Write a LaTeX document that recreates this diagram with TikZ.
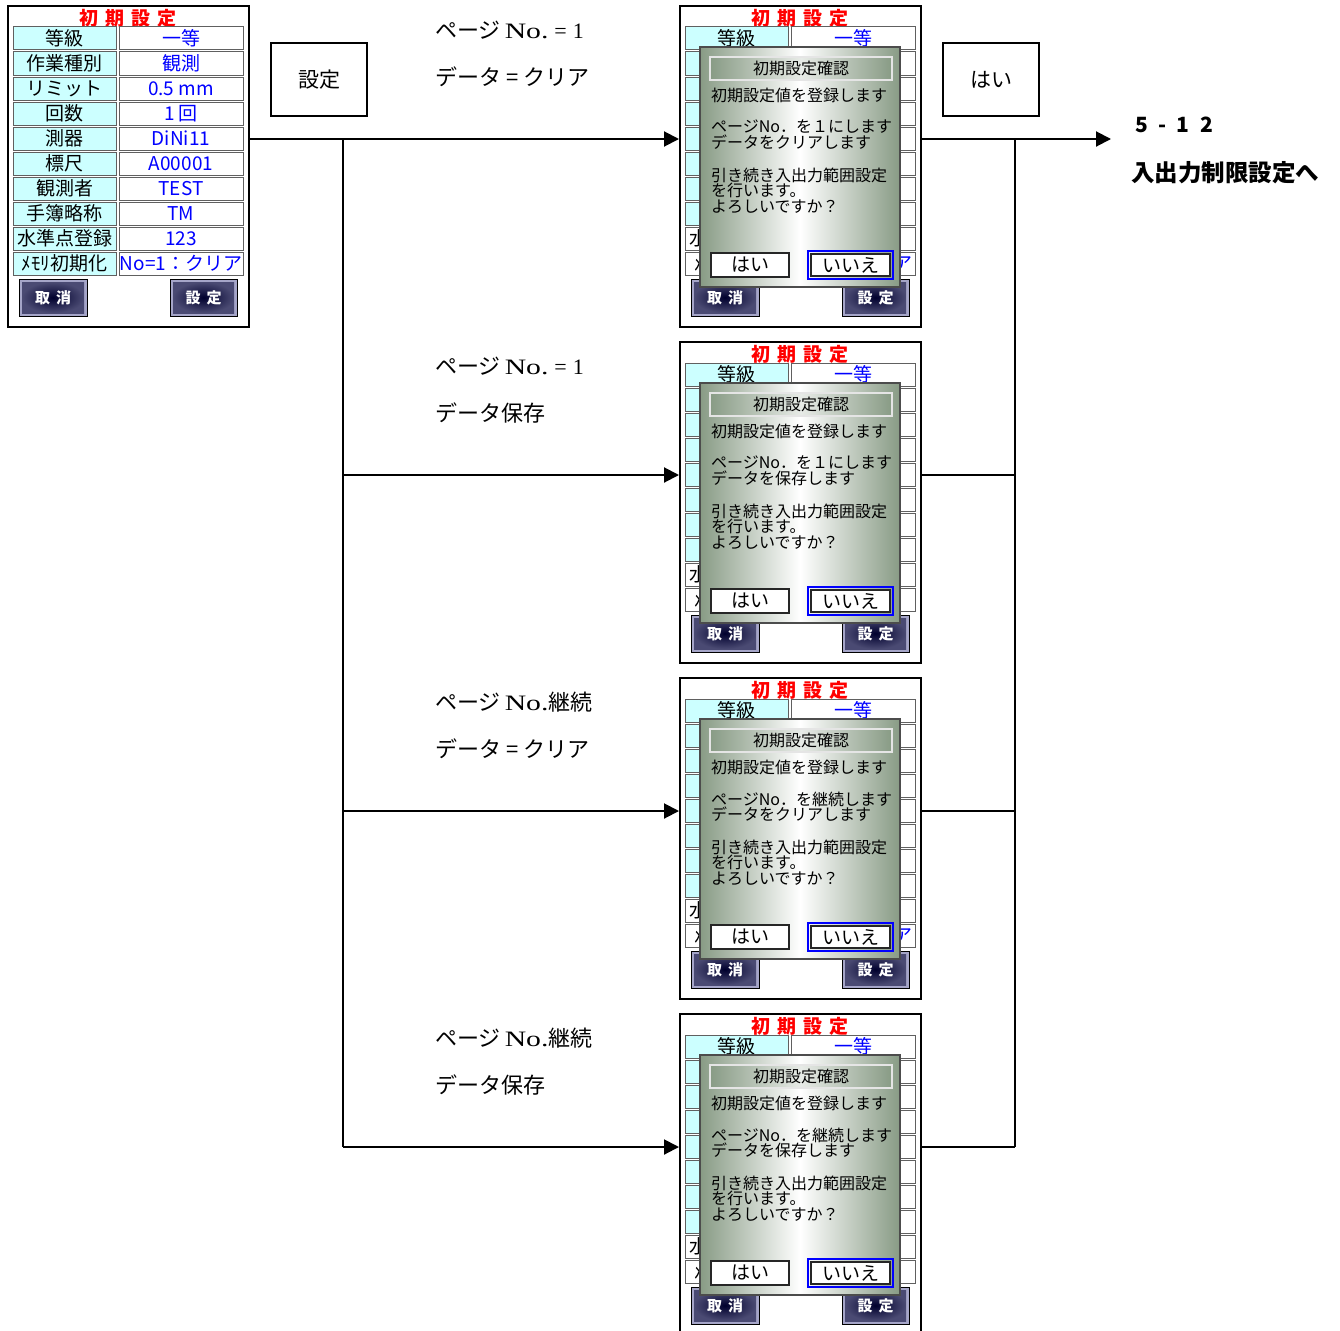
\documentclass[tikz,border=0pt]{standalone}
\usepackage{fontspec}
\usepackage{graphicx}
\setmainfont{Liberation Serif}
\newfontfamily\jp{Noto Sans CJK JP}
\usetikzlibrary{arrows.meta}

\definecolor{cellcyan}{RGB}{204,255,255}
\definecolor{valblue}{RGB}{0,0,255}
\definecolor{dlggreen}{RGB}{136,155,133}
\definecolor{btnnavy}{RGB}{0,0,45}
\definecolor{btnedge}{RGB}{165,165,200}

% screen frame: #1 name prefix, #2 fill of last two labels
\newcommand{\scrbody}[2]{%
  \node[scrtitle] (#1title) at (120,12) {初\hspace{7pt}期\hspace{7pt}設\hspace{7pt}定};
  \foreach \fc [count=\i from 0] in {cellcyan,cellcyan,cellcyan,cellcyan,cellcyan,
      cellcyan,cellcyan,cellcyan,#2,#2} {
    \draw[labcell, fill=\fc] (5,21+25*\i) rectangle (108,44+25*\i);
    \draw[valcell] (111,21+25*\i) rectangle (235,44+25*\i);
  }
  \node[labtxt] (#1lab0) at (56.5,32.5) {等級};
  \node[valtxt] (#1val0) at (173,32.5) {一等};
  \draw[scrbtn] (11,273) rectangle (79,310);
  \shade[inner color=btnnavy, outer color=btnnavy!55!btnedge] (14,276) rectangle (76,307);
  \draw[scrbtn] (162,273) rectangle (229,310);
  \shade[inner color=btnnavy, outer color=btnnavy!55!btnedge] (165,276) rectangle (226,307);
  \node[btntxt] (#1cancel) at (45,291.5) {取\hspace{6pt}消};
  \node[btntxt] (#1ok) at (195.5,291.5) {設\hspace{6pt}定};
}

% confirm dialog: #1 name prefix, #2 page line, #3 data line
\newcommand{\dlgbody}[3]{%
  \draw[dialog] (20,41) rectangle (220,281);
  \draw[dlgbar] (30,51) rectangle (212,74);
  \node[dlghead] (#1head) at (121,62.5) {初期設定確認};
  \node[dlgtxt] (#1l1) at (31,89) {初期設定値を登録します};
  \node[dlgtxt] (#1l2) at (31,121) {#2};
  \node[dlgtxt] (#1l3) at (31,136) {#3};
  \node[dlgtxt] (#1l4) at (31,169) {引き続き入出力範囲設定};
  \node[dlgtxt] (#1l5) at (31,184) {を行います。};
  \node[dlgtxt] (#1l6) at (31,201) {よろしいですか？};
  \draw[dlgbtn] (31,247) rectangle (109,271);
  \draw[blue, line width=2pt] (128,245) rectangle (213,273);
  \draw[dlgbtn] (131,248) rectangle (210,270);
  \node[dlgbtntxt] (#1yes) at (70,259) {はい};
  \node[dlgbtntxt] (#1no) at (170.5,259) {いいえ};
}

\newcommand{\pno}{\scalebox{1.35}[1]{No.}}

\begin{document}
\begin{tikzpicture}[
    x=1pt, y=-1pt,
    screen/.style={draw, line width=2pt, fill=white, minimum width=241pt, minimum height=321pt, inner sep=0pt},
    box/.style={draw, line width=2pt, minimum width=96pt, minimum height=73pt, font=\jp\fontsize{21}{21}\selectfont},
    lbl/.style={anchor=west, inner sep=0pt, font=\fontsize{22}{22}\selectfont},
    flow/.style={line width=2pt},
    arr/.style={flow, -{Triangle[length=15pt, width=15pt]}},
    scrtitle/.style={inner sep=0pt, text=red, font=\jp\bfseries\fontsize{19}{19}\selectfont},
    labcell/.style={draw=gray!75!black, line width=1pt},
    valcell/.style={fill=white, draw=gray!75!black, line width=1pt},
    labtxt/.style={inner sep=0pt, font=\jp\fontsize{19}{19}\selectfont},
    valtxt/.style={labtxt, text=valblue},
    scrbtn/.style={draw=black, line width=1pt, fill=btnedge},
    btntxt/.style={inner sep=0pt, text=white, font=\jp\bfseries\fontsize{15}{15}\selectfont},
    dialog/.style={draw=gray!60!black, line width=1.5pt, left color=dlggreen, right color=dlggreen, middle color=white},
    dlgbar/.style={draw=gray!20, line width=1.5pt, left color=dlggreen, right color=dlggreen, middle color=dlggreen!20},
    dlghead/.style={inner sep=0pt, font=\jp\fontsize{16}{16}\selectfont},
    dlgtxt/.style={anchor=west, inner sep=0pt, font=\jp\fontsize{16}{16}\selectfont},
    dlgbtn/.style={draw=black!85, line width=2pt, fill=white},
    dlgbtntxt/.style={inner sep=0pt, font=\jp\fontsize{19}{19}\selectfont},
  ]
  \useasboundingbox (0,0) rectangle (1340,1330);

  % --- screens ---
  \node[screen] (s0) at (128.5,166.5) {};
  \foreach \k in {1,...,4}
    \node[screen] (s\k) at (800.5,166.5+336*\k-336) {};

  \begin{scope}[shift={(8,6)}]
    \scrbody{s0}{cellcyan}
    \foreach \lab/\val [count=\i] in {作業種別/観測, リミット/0.5 mm, 回数/1 回, 測器/DiNi11,
        標尺/A00001, 観測者/TEST, 手簿略称/TM, 水準点登録/123, ﾒﾓﾘ初期化/No=1：クリア} {
      \node[labtxt] (s0lab\i) at (56.5,32.5+25*\i) {\lab};
      \node[valtxt] (s0val\i) at (173,32.5+25*\i) {\val};
    }
  \end{scope}
  \begin{scope}[shift={(680,6)}]
    \scrbody{s1}{white}
    \node[labtxt, anchor=west] (s1lab8) at (9,232.5) {水};
    \node[labtxt, anchor=west] (s1lab9) at (14,257.5) {ﾒ};
    \node[valtxt, anchor=east] (s1val9) at (233,257.5) {ア};
    \dlgbody{d1}{ページNo．を１にします}{データをクリアします}
  \end{scope}
  \begin{scope}[shift={(680,342)}]
    \scrbody{s2}{white}
    \node[labtxt, anchor=west] (s2lab8) at (9,232.5) {水};
    \node[labtxt, anchor=west] (s2lab9) at (14,257.5) {ﾒ};
    \dlgbody{d2}{ページNo．を１にします}{データを保存します}
  \end{scope}
  \begin{scope}[shift={(680,678)}]
    \scrbody{s3}{white}
    \node[labtxt, anchor=west] (s3lab8) at (9,232.5) {水};
    \node[labtxt, anchor=west] (s3lab9) at (14,257.5) {ﾒ};
    \node[valtxt, anchor=east] (s3val9) at (233,257.5) {ア};
    \dlgbody{d3}{ページNo．を継続します}{データをクリアします}
  \end{scope}
  \begin{scope}[shift={(680,1014)}]
    \scrbody{s4}{white}
    \node[labtxt, anchor=west] (s4lab8) at (9,232.5) {水};
    \node[labtxt, anchor=west] (s4lab9) at (14,257.5) {ﾒ};
    \dlgbody{d4}{ページNo．を継続します}{データを保存します}
  \end{scope}

  % --- key boxes ---
  \node[box] (bset) at (319,79.5) {設定};
  \node[box] (byes) at (991,79.5) {はい};

  % --- branch labels ---
  \node[lbl] (c1a) at (435,30) {{\jp ページ}\hspace{4pt}\pno\hspace{6pt}=\hspace{6pt}1};
  \node[lbl] (c1b) at (435,77) {\jp データ = クリア};
  \node[lbl] (c2a) at (435,366) {{\jp ページ}\hspace{4pt}\pno\hspace{6pt}=\hspace{6pt}1};
  \node[lbl] (c2b) at (435,413) {\jp データ保存};
  \node[lbl] (c3a) at (435,702) {{\jp ページ}\hspace{4pt}\pno{\jp 継続}};
  \node[lbl] (c3b) at (435,749) {\jp データ = クリア};
  \node[lbl] (c4a) at (435,1038) {{\jp ページ}\hspace{4pt}\pno{\jp 継続}};
  \node[lbl] (c4b) at (435,1085) {\jp データ保存};

  \node[lbl, font=\jp\bfseries\fontsize{21}{21}\selectfont] (gno) at (1135,125)
    {5\hspace{10pt}-\hspace{10pt}1\hspace{12pt}2};
  \node[lbl, font=\jp\bfseries\fontsize{23.5}{23.5}\selectfont] (gtxt) at (1131,173) {入出力制限設定へ};

  % --- connectors ---
  \foreach \k in {1,...,4} {
    \coordinate (a\k) at (343,139+336*\k-336);
    \coordinate (b\k) at (1015,139+336*\k-336);
  }
  \coordinate (goal) at (1111,139);

  \draw[arr] (s0.east |- a1) -- (s1.west |- a1);
  \draw[flow] (a1) -- (a4);
  \foreach \k in {2,3,4}
    \draw[arr] (a\k) -- (s\k.west |- a\k);

  \draw[arr] (s1.east |- b1) -- (goal);
  \draw[flow] (b1) -- (b4);
  \foreach \k in {2,3,4}
    \draw[flow] (s\k.east |- b\k) -- (b\k);

\end{tikzpicture}
\end{document}
